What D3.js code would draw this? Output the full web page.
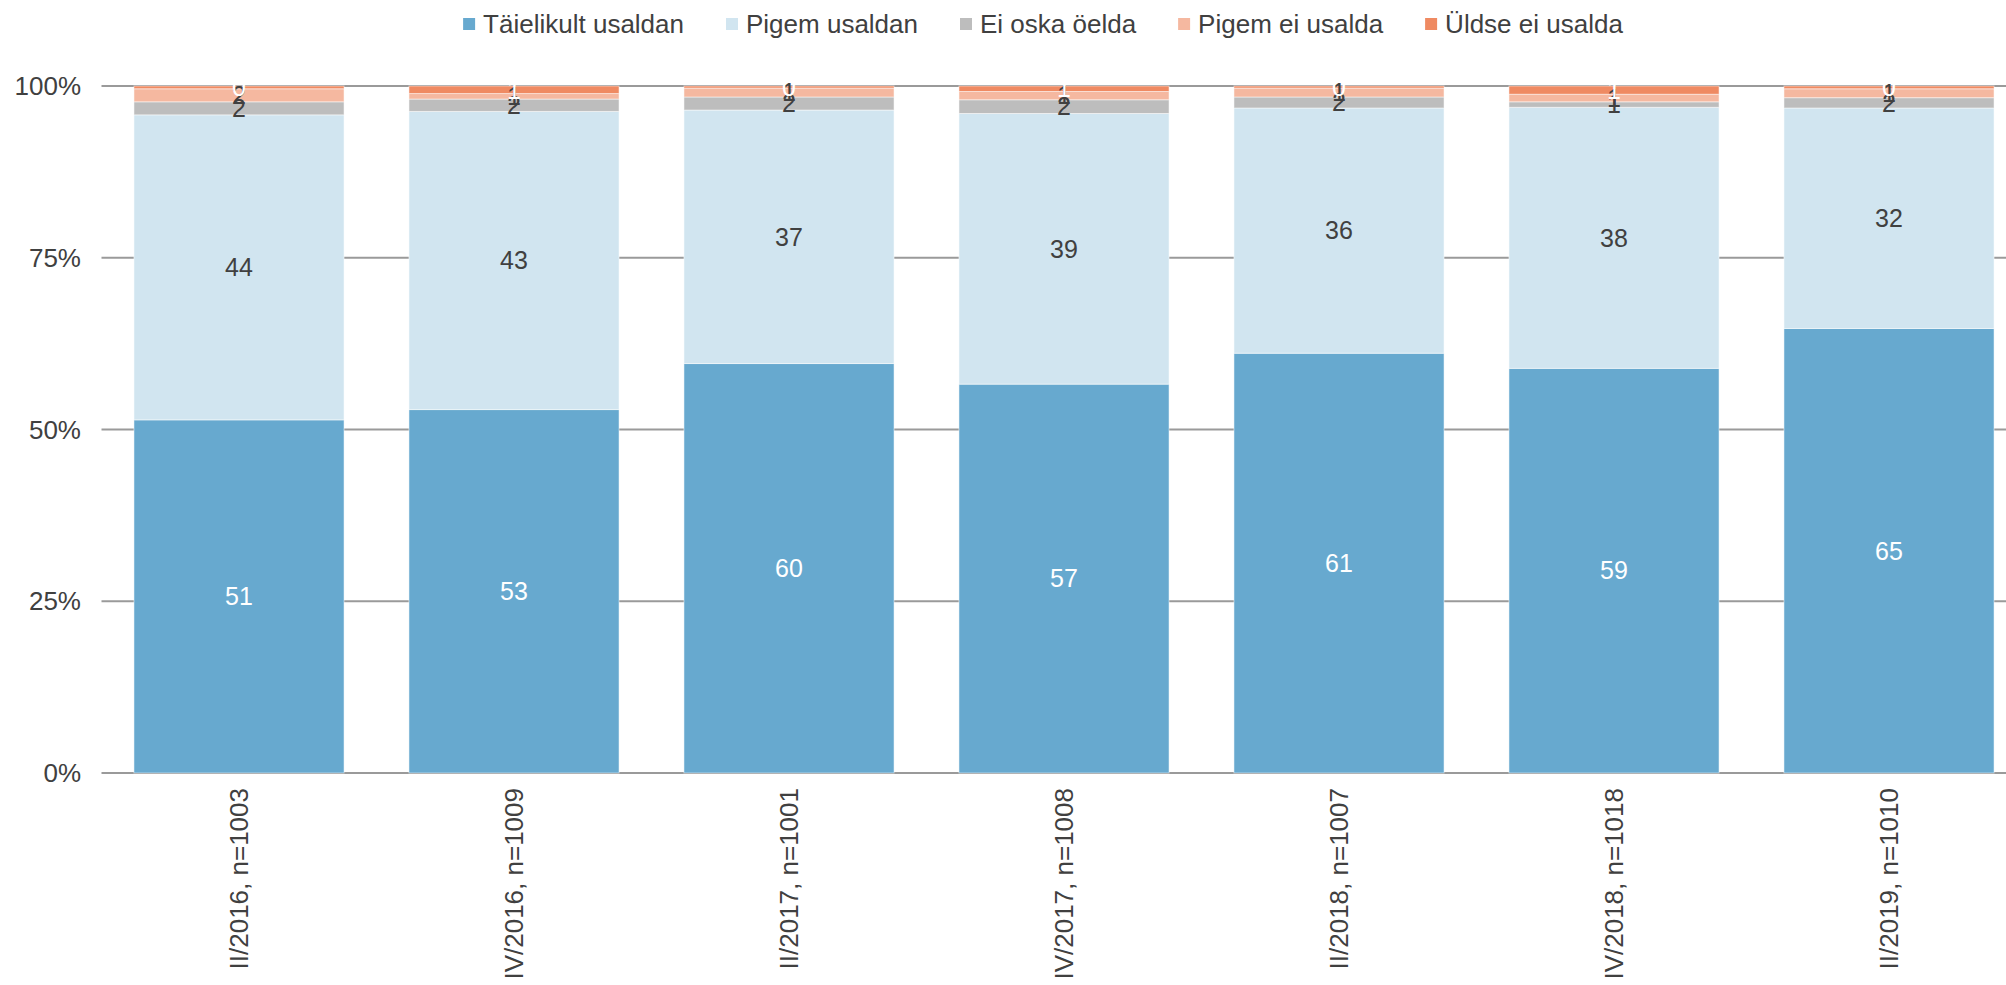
<!DOCTYPE html>
<html>
<head>
<meta charset="utf-8">
<script src="https://cdn.jsdelivr.net/npm/d3@7"></script>
<style>
    body { margin: 0; background: #fff; }
    svg { display: block; font-family: "Liberation Sans", Arial, sans-serif; }
</style>
</head>
<body>
<svg class="chart"></svg>
<script>
// survey waves (x axis)
var categories = ["II/2016, n=1003", "IV/2016, n=1009", "II/2017, n=1001", "IV/2017, n=1008",
                  "II/2018, n=1007", "IV/2018, n=1018", "II/2019, n=1010"];

// answer series, percent of respondents
var seriesNames = ["Täielikult usaldan", "Pigem usaldan", "Ei oska öelda", "Pigem ei usalda", "Üldse ei usalda"];
var taielikult = [51.4, 52.9, 59.6, 56.6, 61.1, 58.9, 64.7];
var pigem      = [44.4, 43.4, 36.9, 39.4, 35.7, 38.0, 32.1];
var eiOska     = [1.9, 1.8, 1.9, 2.0, 1.6, 0.8, 1.5];
var pigemEi    = [1.9, 0.8, 1.3, 1.2, 1.3, 1.1, 1.3];
var uldse      = [0.4, 1.1, 0.3, 0.8, 0.3, 1.2, 0.4];

var yTicks = [0, 25, 50, 75, 100];

var colors = ["#67a9cf", "#d1e5f0", "#bdbdbd", "#f5b8a0", "#ef8a62"];
var labelColors = ["#ffffff", "#404040", "#404040", "#404040", "#ffffff"];

var width = 2006;
var height = 985;

var chart = d3.select(".chart")
    .attr("width", width)
    .attr("height", height);

// build rows for the stack
var allSeries = [taielikult, pigem, eiOska, pigemEi, uldse];
var rows = categories.map(function(c, i) {
    var r = { cat: c };
    seriesNames.forEach(function(s, j) { r[s] = allSeries[j][i]; });
    return r;
});

var stacked = d3.stack().keys(seriesNames)(rows);

var x = d3.scaleBand()
    .domain(categories)
    .range([101.5, 2026.5])
    .paddingInner(0.236)
    .paddingOuter(0.118);

var y = d3.scaleLinear()
    .domain([0, 100])
    .range([773, 86]);

// gridlines
chart.append("g")
    .selectAll("line")
    .data(yTicks)
    .enter()
    .append("line")
    .attr("x1", x.range()[0])
    .attr("x2", x.range()[1])
    .attr("y1", function(d) { return y(d); })
    .attr("y2", function(d) { return y(d); })
    .attr("stroke", "#9a9a9a")
    .attr("stroke-width", 2);

// y tick labels
chart.append("g")
    .selectAll("text")
    .data(yTicks)
    .enter()
    .append("text")
    .attr("x", 81)
    .attr("y", function(d) { return y(d); })
    .attr("dy", "0.35em")
    .attr("text-anchor", "end")
    .attr("font-size", 26)
    .attr("fill", "#404040")
    .text(function(d) { return d + "%"; });

// bars
var layers = chart.append("g")
    .selectAll("g.layer")
    .data(stacked)
    .enter()
    .append("g")
    .attr("class", "layer")
    .attr("fill", function(d, i) { return colors[i]; });

layers.selectAll("rect")
    .data(function(d) { return d; })
    .enter()
    .append("rect")
    .attr("x", function(d) { return x(d.data.cat); })
    .attr("width", x.bandwidth())
    .attr("y", function(d) { return y(d[1]); })
    .attr("height", function(d) { return y(d[0]) - y(d[1]); })
    .attr("stroke", "#ffffff")
    .attr("stroke-opacity", 0.5)
    .attr("stroke-width", 1);

// data labels, drawn after all bars so they sit on top
stacked.forEach(function(layer, i) {
    chart.append("g")
        .selectAll("text")
        .data(layer)
        .enter()
        .append("text")
        .attr("x", function(d) { return x(d.data.cat) + x.bandwidth() / 2; })
        .attr("y", function(d) { return (y(d[0]) + y(d[1])) / 2; })
        .attr("dy", "0.35em")
        .attr("text-anchor", "middle")
        .attr("font-size", 25)
        .attr("fill", labelColors[i])
        .text(function(d) { return Math.round(d[1] - d[0]); });
});

// x labels (rotated)
chart.append("g")
    .selectAll("text")
    .data(categories)
    .enter()
    .append("text")
    .attr("transform", function(d) {
        return "translate(" + (x(d) + x.bandwidth() / 2) + ",788) rotate(-90)";
    })
    .attr("dy", "0.35em")
    .attr("text-anchor", "end")
    .attr("font-size", 26)
    .attr("fill", "#404040")
    .text(function(d) { return d; });

// legend, laid out left to right and centred
var legend = chart.append("g");
var lx = 0;
seriesNames.forEach(function(s, i) {
    var item = legend.append("g").attr("transform", "translate(" + lx + ",0)");
    item.append("rect")
        .attr("x", 0)
        .attr("y", 18)
        .attr("width", 12)
        .attr("height", 12)
        .attr("fill", colors[i]);
    var t = item.append("text")
        .attr("x", 20)
        .attr("y", 33)
        .attr("font-size", 26)
        .attr("fill", "#404040")
        .text(s);
    lx += 20 + t.node().getComputedTextLength() + 42;
});
var legendW = lx - 42;
legend.attr("transform", "translate(" + (1043 - legendW / 2) + ",0)");
</script>
</body>
</html>
